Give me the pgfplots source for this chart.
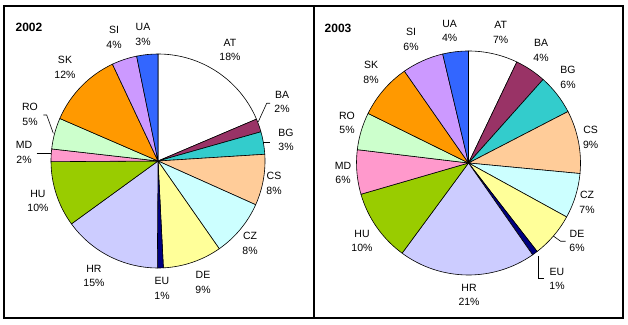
\documentclass[border=0pt]{standalone}
\usepackage{fontspec}
\setmainfont{Liberation Sans}
\usepackage{pgfplots}
\usepackage{pgfplotstable}
\pgfplotsset{compat=1.18}
\definecolor{cBA}{HTML}{993366}
\definecolor{cBG}{HTML}{33CCCC}
\definecolor{cCS}{HTML}{FFCC99}
\definecolor{cCZ}{HTML}{CCFFFF}
\definecolor{cDE}{HTML}{FFFF99}
\definecolor{cEU}{HTML}{000080}
\definecolor{cHR}{HTML}{CCCCFF}
\definecolor{cHU}{HTML}{99CC00}
\definecolor{cMD}{HTML}{FF99CC}
\definecolor{cRO}{HTML}{CCFFCC}
\definecolor{cSK}{HTML}{FF9900}
\definecolor{cSI}{HTML}{CC99FF}
\definecolor{cUA}{HTML}{3366FF}
\tikzset{lab/.style={font=\fontsize{10.5}{14.5}\selectfont, align=center, inner sep=0pt},
  lead/.style={black, line width=0.6pt}}

% name: country, share: slice size (%), pct: printed label, col: fill, lx/ly: label position
\pgfplotstableread{
name share pct col lx ly
AT 18.6 18 white 230 274
BA 2.0 2 cBA 282 222
BG 3.4 3 cBG 286 184
CS 7.7 8 cCS 274 140.5
CZ 8.6 8 cCZ 250 80.5
DE 8.9 9 cDE 203 41.5
EU 0.9 1 cEU 162 35.5
HR 14.9 15 cHR 94 48
HU 9.9 10 cHU 38 123
MD 1.9 2 cMD 24 171.5
RO 4.7 5 cRO 30 209.5
SK 11.5 12 cSK 65 256.5
SI 3.8 4 cSI 114 286.5
UA 3.2 3 cUA 143 289.5
}\tblA

\pgfplotstableread{
name share pct col lx ly
AT 7.1 7 white 500.7 291.5
BA 4.5 4 cBA 541 273.5
BG 5.8 6 cBG 568 246.5
CS 9.1 9 cCS 590.7 186.5
CZ 6.5 7 cCZ 587 121.5
DE 6.5 6 cDE 577 83
EU 0.8 1 cEU 557 45
HR 19.8 21 cHR 469 29
HU 10.4 10 cHU 362 83
MD 6.4 6 cMD 343 151
RO 5.4 5 cRO 347 201
SK 8.0 8 cSK 371 251.5
SI 6.0 6 cSI 411 284.5
UA 3.7 4 cUA 449.7 293
}\tblB

\newcommand\buildpie[5]{%
  \gdef#5{}%
  \pgfplotstablegetrowsof{#1}%
  \pgfmathtruncatemacro\nrows{\pgfplotsretval-1}%
  \xdef\cumangle{90}%
  \pgfplotsforeachungrouped \i in {0,...,\nrows}{%
    \pgfplotstablegetelem{\i}{share}\of{#1}\let\sh\pgfplotsretval
    \pgfplotstablegetelem{\i}{col}\of{#1}\let\cl\pgfplotsretval
    \pgfplotstablegetelem{\i}{name}\of{#1}\let\nm\pgfplotsretval
    \pgfplotstablegetelem{\i}{pct}\of{#1}\let\pc\pgfplotsretval
    \pgfplotstablegetelem{\i}{lx}\of{#1}\let\lx\pgfplotsretval
    \pgfplotstablegetelem{\i}{ly}\of{#1}\let\ly\pgfplotsretval
    \pgfmathsetmacro\endangle{\cumangle-3.6*\sh}%
    \edef\tmp{\noexpand\filldraw[fill=\cl, draw=black, line width=0.6pt, line join=round]
      (axis cs:#2,#3) -- ++(\cumangle:#4pt) arc[start angle=\cumangle, end angle=\endangle, radius=#4pt] -- cycle;
      \noexpand\node[lab] at (axis cs:\lx,\ly) {\nm\noexpand\\\pc\noexpand\%};}%
    \xdef#5{\unexpanded\expandafter{#5}\unexpanded\expandafter{\tmp}}%
    \xdef\cumangle{\endangle}%
  }%
}

\begin{document}
\buildpie{\tblA}{158}{163}{107}{\pieA}%
\buildpie{\tblB}{468.5}{161}{112}{\pieB}%
\begin{tikzpicture}
\useasboundingbox (0,0) rectangle (628pt,324pt);
\fill[white] (0,0) rectangle (628pt,324pt);
\begin{axis}[at={(0,0)}, anchor=south west, scale only axis, width=314pt, height=324pt,
  xmin=0, xmax=314, ymin=0, ymax=324, hide axis, clip=false]
\pieA
\draw[lead] (axis cs:258.3,202.3) -- (axis cs:266.7,220.7) -- (axis cs:270,220.7);
\draw[lead] (axis cs:263,181.3) -- (axis cs:270,181.3);
\draw[lead] (axis cs:53.3,190.7) -- (axis cs:46.7,209) -- (axis cs:43.3,209);
\draw[lead] (axis cs:36.7,170.7) -- (axis cs:51,170.7);
\node[font=\fontsize{12}{14}\bfseries] at (axis cs:29,297) {2002};
\draw[line width=1.6pt] (axis cs:4,6) rectangle (axis cs:314,318);
\end{axis}
\begin{axis}[at={(314pt,0)}, anchor=south west, scale only axis, width=314pt, height=324pt,
  xmin=314, xmax=628, ymin=0, ymax=324, hide axis, clip=false]
\pieB
\draw[lead] (axis cs:553.3,88) -- (axis cs:560.7,82.7) -- (axis cs:565.7,82.7);
\draw[lead] (axis cs:538,67.7) -- (axis cs:538,45.3) -- (axis cs:544,45.3);
\node[font=\fontsize{12}{14}\bfseries] at (axis cs:338,296) {2003};
\draw[line width=1.6pt] (axis cs:314,6) rectangle (axis cs:623,318);
\end{axis}
\end{tikzpicture}
\end{document}
